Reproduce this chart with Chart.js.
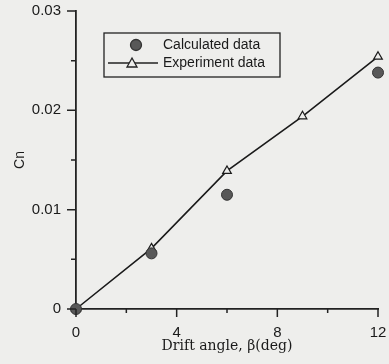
<!DOCTYPE html>
<html>
<head>
<meta charset="utf-8">
<script src="https://cdn.jsdelivr.net/npm/chart.js@4/dist/chart.umd.min.js"></script>
<style>
  html, body { margin: 0; padding: 0; background: #eeeeec; }
  #wrap { width: 389px; height: 364px; }
</style>
</head>
<body>
<div id="wrap"><canvas id="grafico" width="389" height="364"></canvas></div>
<script>
// drift angle (deg) vs Cn
const angulosExp = [0, 3, 6, 9, 12];
const cnExp = [0, 0.0061, 0.0139, 0.0194, 0.0254];
const angulosCalc = [0, 3, 6, 12];
const cnCalc = [0, 0.0056, 0.0115, 0.0238];
const ticksX = [0, 4, 8, 12];
const ticksY = [0, 0.01, 0.02, 0.03];

function ehMaior(lista, v) {
  return lista.some(t => Math.abs(t - v) < 1e-9);
}

// tick marks outward on both axes, minor ones shorter
const marcas = {
  id: 'marcas',
  afterDraw(chart) {
    const ctx = chart.ctx;
    const x = chart.scales.x, y = chart.scales.y;
    ctx.save();
    ctx.strokeStyle = '#222';
    ctx.lineWidth = 1.5;
    ctx.beginPath();
    y.ticks.forEach(t => {
      const py = y.getPixelForValue(t.value);
      const len = ehMaior(ticksY, t.value) ? 9 : 5;
      ctx.moveTo(y.right - len, py);
      ctx.lineTo(y.right, py);
    });
    x.ticks.forEach(t => {
      const px = x.getPixelForValue(t.value);
      const len = ehMaior(ticksX, t.value) ? 8 : 4;
      ctx.moveTo(px, x.top);
      ctx.lineTo(px, x.top + len);
    });
    ctx.stroke();
    ctx.restore();
  }
};

// boxed legend
const legenda = {
  id: 'legenda',
  afterDraw(chart) {
    const ctx = chart.ctx;
    ctx.save();
    ctx.strokeStyle = '#222';
    ctx.lineWidth = 1.3;
    ctx.strokeRect(104, 33, 176, 44);
    // circle
    ctx.beginPath();
    ctx.arc(136, 45, 5.5, 0, Math.PI * 2);
    ctx.fillStyle = '#585858';
    ctx.fill();
    ctx.strokeStyle = '#333';
    ctx.stroke();
    // line + triangle
    ctx.beginPath();
    ctx.moveTo(108, 63);
    ctx.lineTo(158, 63);
    ctx.strokeStyle = '#222';
    ctx.stroke();
    ctx.beginPath();
    ctx.moveTo(132, 58);
    ctx.lineTo(137, 67);
    ctx.lineTo(127, 67);
    ctx.closePath();
    ctx.fillStyle = '#eeeeec';
    ctx.fill();
    ctx.stroke();
    ctx.fillStyle = '#1a1a1a';
    ctx.font = '14px "Liberation Sans", Arial, sans-serif';
    ctx.textBaseline = 'middle';
    ctx.fillText('Calculated data', 163, 45);
    ctx.fillText('Experiment data', 163, 63);
    ctx.restore();
  }
};

const fonteSans = { family: '"Liberation Sans", Arial, sans-serif', size: 15 };

const config = {
  type: 'scatter',
  data: {
    datasets: [
      {
        label: 'Calculated data',
        data: angulosCalc.map((a, i) => ({ x: a, y: cnCalc[i] })),
        showLine: false,
        pointStyle: 'circle',
        pointRadius: 5.5,
        backgroundColor: '#585858',
        borderColor: '#333',
        borderWidth: 1,
        clip: false,
        order: 1
      },
      {
        label: 'Experiment data',
        data: angulosExp.map((a, i) => ({ x: a, y: cnExp[i] })),
        showLine: true,
        pointStyle: 'triangle',
        pointRadius: 5,
        backgroundColor: '#eeeeec',
        borderColor: '#1a1a1a',
        borderWidth: 1.6,
        pointBorderWidth: 1.2,
        clip: false,
        order: 2
      }
    ]
  },
  options: {
    responsive: false,
    animation: false,
    layout: { padding: { left: 8, right: 11, top: 11, bottom: 6 } },
    plugins: { legend: { display: false }, tooltip: { enabled: false } },
    scales: {
      x: {
        type: 'linear',
        min: 0,
        max: 12,
        afterFit: s => { s.height = 49; s.paddingLeft = 0; s.paddingRight = 0; },
        border: { display: true, color: '#222', width: 1.8 },
        grid: { display: false, drawTicks: false },
        ticks: {
          stepSize: 2,
          padding: 15,
          color: '#1a1a1a',
          font: fonteSans,
          maxRotation: 0,
          autoSkip: false,
          callback: v => ehMaior(ticksX, v) ? String(v) : ''
        },
        title: {
          display: true,
          text: 'Drift angle, β(deg)',
          color: '#1a1a1a',
          font: { family: '"DejaVu Serif", "Liberation Serif", serif', size: 14 },
          padding: { top: 0, bottom: 3 }
        }
      },
      y: {
        min: 0,
        max: 0.03,
        afterFit: s => { s.width = 68; s.paddingTop = 0; s.paddingBottom = 0; },
        border: { display: true, color: '#222', width: 1.8 },
        grid: { display: false, drawTicks: false },
        ticks: {
          stepSize: 0.005,
          padding: 15,
          color: '#1a1a1a',
          font: fonteSans,
          autoSkip: false,
          callback: v => ehMaior(ticksY, v) ? (v === 0 ? '0' : v.toFixed(2)) : ''
        },
        title: {
          display: true,
          text: 'Cn',
          color: '#1a1a1a',
          font: { family: '"Liberation Sans", Arial, sans-serif', size: 14 },
          padding: { top: 4, bottom: 0 }
        }
      }
    }
  },
  plugins: [marcas, legenda]
};

var grafico = new Chart(document.getElementById('grafico'), config);
</script>
</body>
</html>
